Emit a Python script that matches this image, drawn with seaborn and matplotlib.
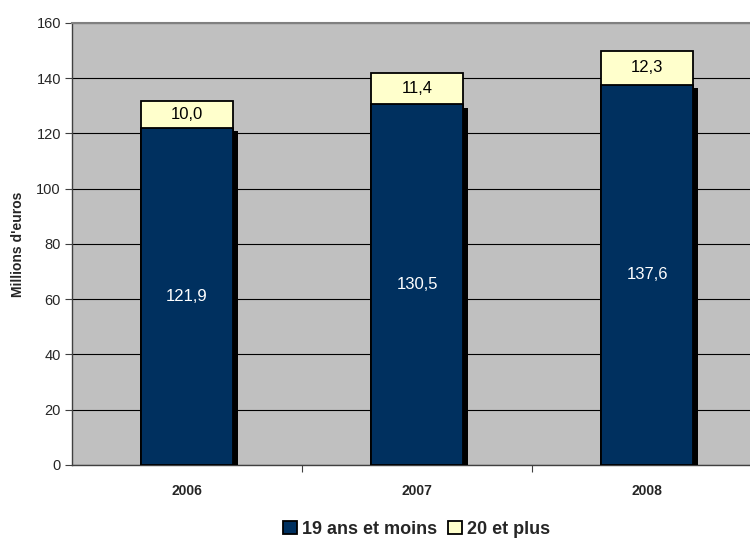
import pandas as pd
import matplotlib.pyplot as plt
import matplotlib.patheffects as pe
import seaborn as sns

# Données
annees = ["2006", "2007", "2008"]
moins_19 = [121.9, 130.5, 137.6]
plus_20 = [10.0, 11.4, 12.3]

df = pd.DataFrame({"annee": annees, "moins_19": moins_19, "plus_20": plus_20})
df["total"] = df["moins_19"] + df["plus_20"]

# Style
sns.set_theme(style="white")
plt.rcParams['font.family'] = ['Liberation Sans', 'DejaVu Sans']

navy = "#00305F"
jaune = "#FFFFCC"

fig = plt.figure(figsize=(7.5, 5.41), dpi=100)
ax = fig.add_axes([0.096, 0.1405, 0.92, 0.817])
ax.set_facecolor("#C0C0C0")

# Barres empilées : total (jaune) puis base (bleu) par-dessus
sns.barplot(data=df, x="annee", y="total", color=jaune, width=0.396,
            edgecolor="black", linewidth=1.3, saturation=1, label="20 et plus",
            ax=ax, zorder=3)
sns.barplot(data=df, x="annee", y="moins_19", color=navy, width=0.396,
            edgecolor="black", linewidth=1.3, saturation=1, label="19 ans et moins",
            ax=ax, zorder=3)

# ombre sur les barres bleues
for p in ax.containers[1]:
    p.set_path_effects([pe.SimplePatchShadow(offset=(3.6, -2.2), shadow_rgbFace="black", alpha=1),
                        pe.Normal()])

# étiquettes
for i, row in df.iterrows():
    ax.text(i, row["moins_19"] / 2, f"{row['moins_19']:.1f}".replace(".", ","),
            ha="center", va="center", color="white", fontsize=12, zorder=5)
    ax.text(i, row["moins_19"] + row["plus_20"] / 2, f"{row['plus_20']:.1f}".replace(".", ","),
            ha="center", va="center", color="black", fontsize=12, zorder=5)

# axes
ax.set_ylim(0, 160)
ax.set_yticks(range(0, 161, 20))
ax.set_xlim(-0.5, 2.5)
ax.yaxis.grid(True, color="black", linewidth=0.8, zorder=0)
ax.set_axisbelow(True)
ax.set_xlabel("")
ax.set_ylabel("Millions d'euros", fontsize=10, fontweight="bold", labelpad=8)
ax.tick_params(axis="y", which="major", length=5, width=0.8, color="#404040",
               labelsize=10.5, left=True, pad=3)
ax.tick_params(axis="x", which="major", length=0, labelsize=10, pad=14)
for lab in ax.get_xticklabels():
    lab.set_fontweight("bold")
ax.set_xticks([0.5, 1.5], minor=True)
ax.tick_params(axis="x", which="minor", length=5, width=0.8, color="#404040", bottom=True)

for s in ["left", "bottom"]:
    ax.spines[s].set_color("#404040")
    ax.spines[s].set_linewidth(1.0)
ax.spines["top"].set_color("#808080")
ax.spines["top"].set_linewidth(1.5)
ax.spines["right"].set_visible(False)

# légende
handles = [ax.containers[1][0], ax.containers[0][0]]
leg = ax.legend(handles, ["19 ans et moins", "20 et plus"], loc="center",
                bbox_to_anchor=(0.5, -0.145), ncol=2, frameon=False,
                prop={"weight": "bold", "size": 13}, handlelength=0.75,
                handleheight=0.75, handletextpad=0.3, columnspacing=0.6)
for h in leg.legend_handles:
    h.set_path_effects([])

fig.savefig("out.png", dpi=100)
